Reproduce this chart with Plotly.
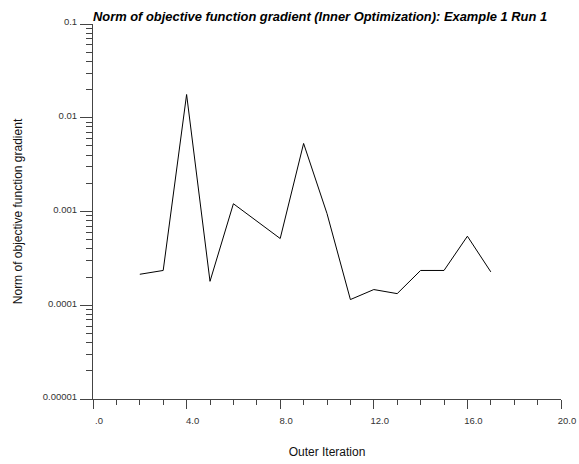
import plotly.graph_objects as go

iterations = [2, 3, 4, 5, 6, 8, 9, 10, 11, 12, 13, 14, 15, 16, 17]
grad_norm = [2.14e-4, 2.35e-4, 1.77e-2, 1.80e-4, 1.21e-3, 5.15e-4, 5.32e-3, 9.5e-4,
             1.15e-4, 1.47e-4, 1.33e-4, 2.35e-4, 2.35e-4, 5.45e-4, 2.27e-4]

x_tickvals = [0, 4, 8, 12, 16, 20]
x_ticktext = [".0", "4.0", "8.0", "12.0", "16.0", "20.0"]
y_tickvals = [1e-5, 1e-4, 1e-3, 1e-2, 1e-1]
y_ticktext = ["0.00001", "0.0001", "0.001", "0.01", "0.1"]

FONT = "Liberation Sans, Arial, sans-serif"

fig = go.Figure()
fig.add_trace(go.Scatter(x=iterations, y=grad_norm, mode="lines",
                         line=dict(color="black", width=1), showlegend=False))

fig.update_layout(
    width=579, height=464,
    margin=dict(l=93, r=18, t=24, b=65, pad=0, autoexpand=False),
    paper_bgcolor="white", plot_bgcolor="white",
    font=dict(family=FONT, color="#222"),
    title=dict(text="<b><i>Norm of objective function gradient (Inner Optimization): Example 1 Run 1</i></b>",
               font=dict(size=12.9, color="black", family=FONT),
               x=93/579, xanchor="left", xref="container",
               y=1 - 16.5/464, yanchor="middle", yref="container",
               automargin=False),
    xaxis=dict(range=[0, 20], showgrid=False, zeroline=False, automargin=False,
               showline=True, linecolor="#444", linewidth=1,
               tickmode="array", tickvals=x_tickvals, ticktext=x_ticktext,
               ticks="outside", ticklen=9, tickcolor="#444", tickwidth=1,
               tickfont=dict(size=9.5, color="#333"), ticklabelstandoff=4, ticklabelshift=6,
               minor=dict(dtick=1, ticks="outside", ticklen=5, tickcolor="#444", tickwidth=1, showgrid=False),
               title=dict(text="Outer Iteration", font=dict(size=12, color="#111"), standoff=22)),
    yaxis=dict(type="log", range=[-5, -1], showgrid=False, zeroline=False, automargin=False,
               showline=True, linecolor="#444", linewidth=1,
               tickmode="array", tickvals=y_tickvals, ticktext=y_ticktext,
               ticks="outside", ticklen=12, tickcolor="#444", tickwidth=1,
               tickfont=dict(size=9.5, color="#333"), ticklabelstandoff=1, ticklabelshift=-2,
               minor=dict(dtick="D1", ticks="outside", ticklen=6, tickcolor="#444", tickwidth=1, showgrid=False),
               title=dict(text="Norm of objective function gradient", font=dict(size=12, color="#111"), standoff=17)),
)

fig.write_html("out.html")
